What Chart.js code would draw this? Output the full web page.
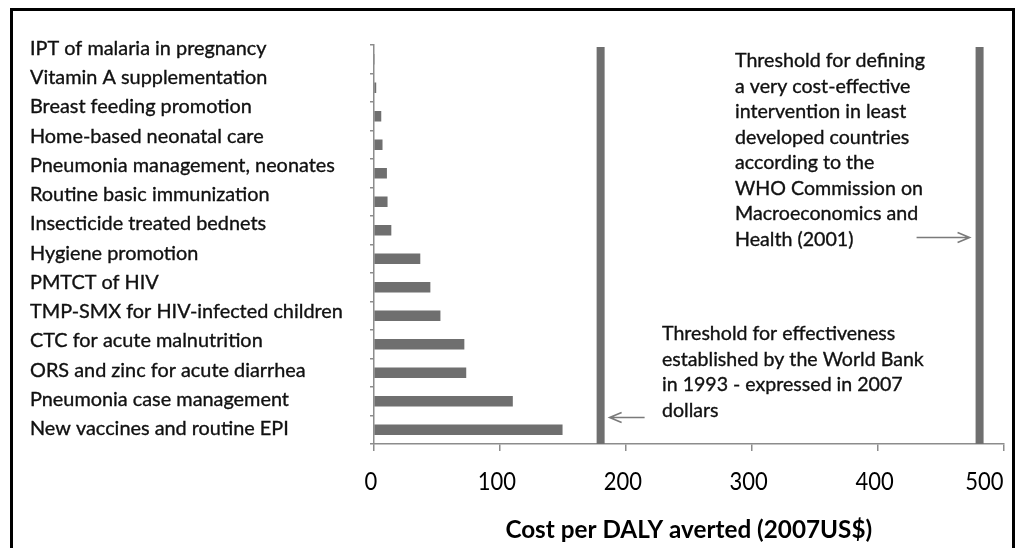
<!DOCTYPE html>
<html>
<head>
<meta charset="utf-8">
<script src="https://cdn.jsdelivr.net/npm/chart.js@4.4.1/dist/chart.umd.min.js"></script>
<style>
  body { margin: 0; background: #fff; }
  #wrap { position: relative; width: 1018px; height: 548px; overflow: hidden; }
  #frame { position: absolute; left: 10px; top: 8px; width: 999px; height: 600px; border: 3px solid #000; }
  #c { position: absolute; left: 0; top: 0; }
</style>
</head>
<body>
<div id="wrap"><div id="frame"></div><canvas id="c" width="1018" height="548"></canvas></div>
<script>
// data (top to bottom)
const interventions = [
  'IPT of malaria in pregnancy',
  'Vitamin A supplementation',
  'Breast feeding promotion',
  'Home-based neonatal care',
  'Pneumonia management, neonates',
  'Routine basic immunization',
  'Insecticide treated bednets',
  'Hygiene promotion',
  'PMTCT of HIV',
  'TMP-SMX for HIV-infected children',
  'CTC for acute malnutrition',
  'ORS and zinc for acute diarrhea',
  'Pneumonia case management',
  'New vaccines and routine EPI'
];
const costPerDaly = [0, 1.5, 5.5, 6.5, 10, 10.5, 13.5, 36.5, 44.5, 52.5, 71.5, 73, 110, 149.5];
const thresholds = [180, 481]; // World Bank 1993 (2007$), WHO CMH 2001
const xTicks = [0, 100, 200, 300, 400, 500];
const axisTitle = 'Cost per DALY averted (2007US$)';
const whoNote = [
  'Threshold for defining',
  'a very cost-effective',
  'intervention in least',
  'developed countries',
  'according to the',
  'WHO Commission on',
  'Macroeconomics and',
  'Health (2001)'
];
const wbNote = [
  'Threshold for effectiveness',
  'established by the World Bank',
  'in 1993 - expressed in 2007',
  'dollars'
];

const FONT = 'Lato, "Open Sans", sans-serif';
const grey = '#6f6f6f';
const axisGrey = '#8c8c8c';

// pick font sizes so text widths match the picture
const mctx = document.createElement('canvas').getContext('2d');
function fit(text, target, weight) {
  mctx.font = (weight || 'normal') + ' 100px ' + FONT;
  return 100 * target / mctx.measureText(text).width;
}
const labelSize = fit('Pneumonia management, neonates', 305);
const whoSize = fit('Threshold for defining', 190);
const wbSize = fit('established by the World Bank', 262);
const numSize = fit('300', 38.3);
const titleSize = fit(axisTitle, 367, 'bold');

function arrow(ctx, x1, y, x2) {
  const d = Math.sign(x2 - x1);
  ctx.beginPath();
  ctx.moveTo(x1, y); ctx.lineTo(x2, y);
  ctx.moveTo(x2 - d * 12, y - 5); ctx.lineTo(x2, y); ctx.lineTo(x2 - d * 12, y + 5);
  ctx.stroke();
}

function text(ctx, t, x, y) {
  ctx.fillText(t, x, y);
  ctx.strokeText(t, x, y);
}

const notes = {
  id: 'notes',
  afterDatasetsDraw(chart) {
    const ctx = chart.ctx, a = chart.chartArea, x = chart.scales.x;
    ctx.save();
    // threshold bars
    ctx.fillStyle = grey;
    thresholds.forEach(v => {
      const px = x.getPixelForValue(v);
      ctx.fillRect(px - 4, a.top + 2, 8, a.bottom - a.top - 2);
    });

    // intervention names: a text column a little looser than the bar rows
    ctx.fillStyle = '#111';
    ctx.strokeStyle = '#111';
    ctx.lineWidth = 0.35;
    ctx.textAlign = 'left';
    ctx.textBaseline = 'alphabetic';
    ctx.font = labelSize + 'px ' + FONT;
    interventions.forEach((t, i) => text(ctx, t, 30, 55 + i * 29.23));

    // x tick labels (last one pulled inside like the original)
    ctx.fillStyle = '#000';
    ctx.font = numSize + 'px ' + FONT;
    xTicks.forEach((v, i) => {
      const px = x.getPixelForValue(v);
      const last = i === xTicks.length - 1;
      ctx.save();
      ctx.translate(last ? px : px - 3, 490);
      ctx.scale(1, 1.12);
      ctx.textAlign = last ? 'right' : 'center';
      ctx.fillText(String(v), 0, 0);
      ctx.restore();
    });

    // annotations
    ctx.textAlign = 'left';
    ctx.fillStyle = '#111';
    ctx.font = whoSize + 'px ' + FONT;
    whoNote.forEach((t, i) => text(ctx, t, 735, 67.3 + i * 25.5));
    ctx.font = wbSize + 'px ' + FONT;
    wbNote.forEach((t, i) => text(ctx, t, 662, 340 + i * 25.6));

    ctx.strokeStyle = '#7a7a7a';
    ctx.lineWidth = 1.6;
    const whoX = x.getPixelForValue(thresholds[1]);
    arrow(ctx, whoX - 63, 237.5, whoX - 10);
    const wbX = x.getPixelForValue(thresholds[0]);
    arrow(ctx, wbX + 44, 417.5, wbX + 9);
    ctx.restore();
  }
};

new Chart(document.getElementById('c'), {
  type: 'bar',
  data: {
    labels: interventions,
    datasets: [{ data: costPerDaly, backgroundColor: grey, barThickness: 10 }]
  },
  options: {
    indexAxis: 'y',
    responsive: false,
    animation: false,
    layout: { padding: { left: 30, top: 45, right: 14.5, bottom: 0 } },
    plugins: { legend: { display: false }, tooltip: { enabled: false } },
    scales: {
      x: {
        min: 0, max: 500,
        ticks: { display: false, stepSize: 100 },
        grid: { drawOnChartArea: false, tickLength: 7, color: axisGrey, lineWidth: 1.5 },
        border: { color: axisGrey, width: 1.5 },
        title: { display: true, text: axisTitle, color: '#000',
                 font: { family: FONT, size: titleSize, weight: 'bold' },
                 padding: { top: 0, bottom: 3.5 } },
        afterFit: s => { s.height = 104; s.paddingLeft = 0; s.paddingRight = 0; }
      },
      y: {
        ticks: { display: false },
        grid: { drawOnChartArea: false, tickLength: 4, color: axisGrey, lineWidth: 1.5 },
        border: { color: axisGrey, width: 1.5 },
        afterFit: s => { s.width = 344; s.paddingTop = 0; s.paddingBottom = 0; }
      }
    }
  },
  plugins: [notes]
});
</script>
</body>
</html>
